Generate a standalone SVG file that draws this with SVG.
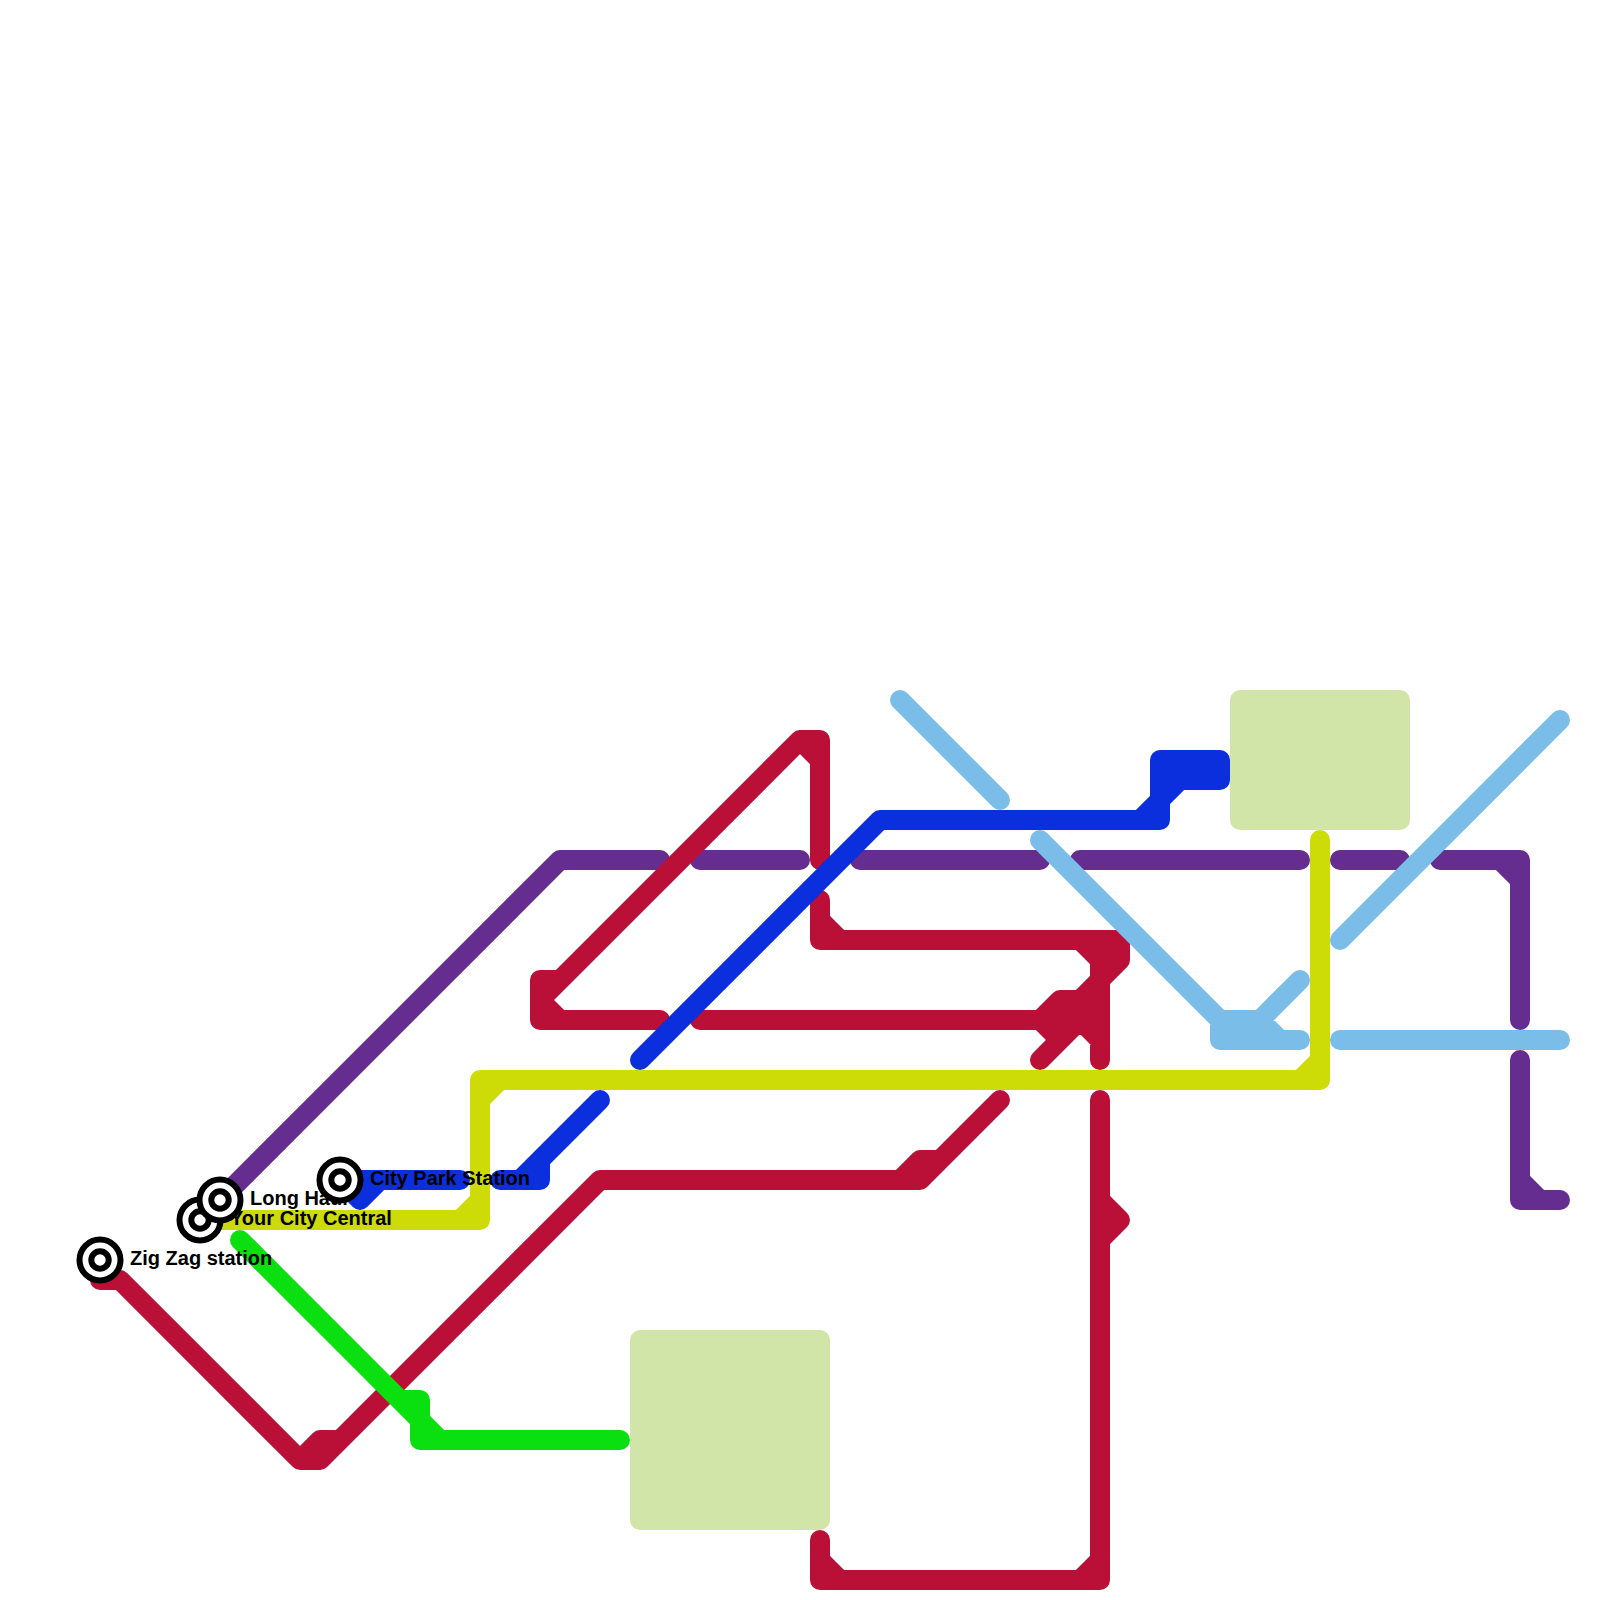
<svg xmlns="http://www.w3.org/2000/svg" width="1600" height="1600" viewBox="0 0 1600 1600">
<style>
.l{fill:none;stroke-width:20;stroke-linecap:round;stroke-linejoin:round}
.purple{stroke:#662d91}.red{stroke:#ba1038}.blue{stroke:#0b2fdc}.yellow{stroke:#cddb06}.green{stroke:#0adf0f}.sky{stroke:#7abde9}
.area{fill:#d0e5a7}
.o{fill:#fff;stroke:#000;stroke-width:6}
.lb{font:bold 20px "Liberation Sans",Arial,sans-serif;fill:#000}
</style>
<rect width="1600" height="1600" fill="#fff"/>
<g id="areas">
<rect class="area" x="1230" y="690" width="180" height="140" rx="10"/>
<rect class="area" x="630" y="1330" width="200" height="200" rx="10"/>
</g>
<g id="connectors">
<path class="l purple" d="M220 1200L560 860H660M700 860H800M860 860H1040M1080 860H1300M1340 860H1400M1440 860H1520V1020M1500 860L1520 880M1520 1060V1200H1560M1520 1180L1540 1200"/>
<path class="l red" d="M100 1280H120L300 1460H320L600 1180H920L1000 1100M300 1460L320 1440H340M900 1180L920 1160H940"/>
<path class="l red" d="M820 1540V1580H1100V1100M820 1560L840 1580M1080 1580L1100 1560M1100 1200L1120 1220L1100 1240"/>
<path class="l red" d="M660 1020H540V980H560L800 740H820V860M540 1000L560 980M540 1000L560 1020M800 740L820 760"/>
<path class="l red" d="M820 900V940H1120V960L1080 1000H1060L1040 1020H700M820 920L840 940M1080 940L1100 960V1060M1040 1060L1100 1000M1040 1020L1060 1040M1040 1020H1100M1080 1020L1100 1040M1120 940L1100 960"/>
<path class="l blue" d="M340 1180H460M340 1180L360 1200L380 1180"/>
<path class="l blue" d="M500 1180H540V1160L600 1100M520 1180L540 1160"/>
<path class="l blue" d="M640 1060L880 820H1160V760H1220V780H1180L1140 820M1160 770H1220M1160 800L1180 780"/>
<path class="l yellow" d="M220 1220H480V1080H1320V840M460 1220L480 1200M480 1100L500 1080M1300 1080L1320 1060"/>
<path class="l green" d="M240 1240L440 1440M400 1400H420V1440H620"/>
<path class="l sky" d="M900 700L1000 800M1040 840L1220 1020V1040H1300M1220 1020H1260L1300 980M1260 1020L1280 1040M1340 1040H1560M1340 940L1560 720"/>
</g>
<g id="zig-zag-station">
<circle class="o" cx="100" cy="1260" r="20.5"/><circle class="o" cx="100" cy="1260" r="8.7"/>
<text class="lb" x="130" y="1265">Zig Zag station</text>
</g>
<g id="your-city-central">
<circle class="o" cx="200" cy="1220" r="20.5"/><circle class="o" cx="200" cy="1220" r="8.7"/>
<text class="lb" x="230" y="1225">Your City Central</text>
</g>
<g id="long-haul">
<circle class="o" cx="220" cy="1200" r="20.5"/><circle class="o" cx="220" cy="1200" r="8.7"/>
<text class="lb" x="250" y="1205">Long Haul</text>
</g>
<g id="city-park-station">
<circle class="o" cx="340" cy="1180" r="20.5"/><circle class="o" cx="340" cy="1180" r="8.7"/>
<text class="lb" x="370" y="1185">City Park Station</text>
</g>
</svg>
